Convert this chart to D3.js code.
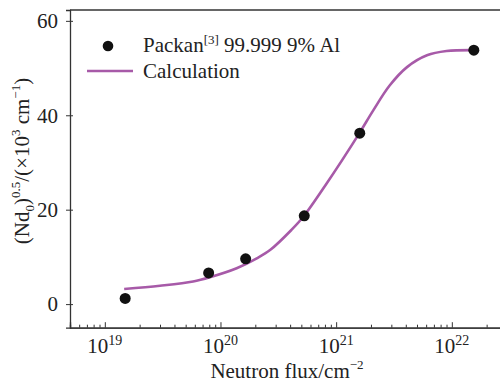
<!DOCTYPE html>
<html>
<head>
<meta charset="utf-8">
<script src="https://cdn.jsdelivr.net/npm/d3@7"></script>
<style>
  body { margin: 0; background: #fff; }
  svg text { font-family: "Liberation Serif", "DejaVu Serif", serif; fill: #222; }
</style>
</head>
<body>
<div id="chart-area"></div>
<script>
// measured points (Packan)
var pointFlux = [1.5e19, 7.9e19, 1.65e20, 5.3e20, 1.6e21, 1.55e22];
var pointVal = [1.2, 6.6, 9.6, 18.7, 36.2, 53.8];

// calculated curve
var calcFlux = [1.47e19, 3.0e19, 5.8e19, 8.1e19, 1.38e20, 2.06e20, 2.7e20, 4.1e20, 5.2e20,
                8.3e20, 1.55e21, 2.1e21, 2.9e21, 4.1e21, 6.1e21, 9.0e21, 1.55e22];
var calcVal = [3.2, 3.9, 4.8, 5.7, 7.6, 9.7, 11.5, 15.7, 18.5,
               25.6, 35.8, 41.1, 46.3, 50.2, 52.7, 53.6, 53.8];

var xMajor = [19, 20, 21, 22];   // exponents
var yTicks = [0, 20, 40, 60];

var width = 500;
var height = 383;
var margin = {top: 10, right: -7, bottom: 55.3, left: 70};
var w = width - margin.left - margin.right;
var h = height - margin.top - margin.bottom;

var svg = d3.select("#chart-area").append("svg")
    .attr("width", width)
    .attr("height", height);

var g = svg.append("g")
    .attr("transform", "translate(" + margin.left + ", " + margin.top + ")");

var x = d3.scaleLog()
    .domain([5e18, 3e22])
    .range([0, w]);

var y = d3.scaleLinear()
    .domain([-5, 62.3])
    .range([h, 0]);

var axisColor = "#333";

// minor ticks
var minors = [];
[18, 19, 20, 21, 22].forEach((e) => {
    for (var k = 2; k <= 9; k++) {
        var v = k * Math.pow(10, e);
        if (v >= 5e18 && v <= 3e22) minors.push(v);
    }
});

var xMinor = g.append("g")
    .attr("transform", "translate(0, " + h + ")")
    .call(d3.axisBottom(x).tickValues(minors).tickSize(-3).tickFormat(""));

var xAxis = g.append("g")
    .attr("transform", "translate(0, " + h + ")")
    .call(d3.axisBottom(x).tickValues(xMajor.map((e) => Math.pow(10, e))).tickSize(-5.5).tickFormat(""));

[xMinor, xAxis].forEach((a) => {
    a.select(".domain").attr("stroke", axisColor).attr("stroke-width", 1.3);
    a.selectAll(".tick line").attr("stroke", axisColor).attr("stroke-width", 1);
});

// x tick labels with superscripts
xMajor.forEach((e) => {
    var t = g.append("text")
        .attr("x", x(Math.pow(10, e)))
        .attr("y", h + 25.5)
        .attr("text-anchor", "middle")
        .attr("font-size", "21px");
    t.append("tspan").text("10");
    t.append("tspan").attr("font-size", "14px").attr("dy", -8).text(e);
});

var yAxis = g.append("g")
    .call(d3.axisLeft(y).tickValues(yTicks).tickSize(4).tickPadding(8));

yAxis.select(".domain").attr("stroke", axisColor).attr("stroke-width", 1.3);
yAxis.selectAll(".tick line").attr("stroke", axisColor).attr("x1", 3);
yAxis.selectAll(".tick text").attr("font-size", "21px").attr("font-family", "Liberation Serif").attr("fill", "#222");

// top border
g.append("line")
    .attr("x1", 0).attr("x2", w + 10)
    .attr("y1", 0).attr("y2", 0)
    .attr("stroke", axisColor)
    .attr("stroke-width", 1.3);

// calculation line
var line = d3.line()
    .x((d) => { return x(d[0]); })
    .y((d) => { return y(d[1]); })
    .curve(d3.curveCatmullRom);

g.append("path")
    .datum(calcFlux.map((f, i) => [f, calcVal[i]]))
    .attr("d", line)
    .attr("fill", "none")
    .attr("stroke", "#a75aa8")
    .attr("stroke-width", 2.6);

// measured points
g.selectAll("circle.pt")
    .data(pointFlux.map((f, i) => [f, pointVal[i]]))
    .enter()
    .append("circle")
        .attr("class", "pt")
        .attr("cx", (d) => { return x(d[0]); })
        .attr("cy", (d) => { return y(d[1]); })
        .attr("r", 5.5)
        .attr("fill", "#111");

// legend
svg.append("circle")
    .attr("cx", 108).attr("cy", 46).attr("r", 5.3).attr("fill", "#111");
var leg1 = svg.append("text")
    .attr("x", 143).attr("y", 52)
    .attr("font-size", "21px");
leg1.append("tspan").text("Packan");
leg1.append("tspan").attr("font-size", "13px").attr("dy", -8).text("[3]");
leg1.append("tspan").attr("dy", 8).text(" 99.999 9% Al");

svg.append("line")
    .attr("x1", 87).attr("x2", 133)
    .attr("y1", 71).attr("y2", 71)
    .attr("stroke", "#a75aa8")
    .attr("stroke-width", 2.6);
svg.append("text")
    .attr("x", 143).attr("y", 78)
    .attr("font-size", "21px")
    .text("Calculation");

// axis labels
var labelX = svg.append("text")
    .attr("x", 287)
    .attr("y", 378)
    .attr("text-anchor", "middle")
    .attr("font-size", "21px");
labelX.append("tspan").text("Neutron flux/cm");
labelX.append("tspan").attr("font-size", "13px").attr("dy", -9).text("\u22122");

var labelY = svg.append("text")
    .attr("transform", "translate(29, 161) rotate(-90)")
    .attr("text-anchor", "middle")
    .attr("font-size", "21px");
labelY.append("tspan").text("(Nd");
labelY.append("tspan").attr("font-size", "13px").attr("dy", 5).text("0");
labelY.append("tspan").attr("dy", -5).text(")");
labelY.append("tspan").attr("font-size", "13px").attr("dy", -9).text("0.5");
labelY.append("tspan").attr("dy", 9).text("/(\u00d710");
labelY.append("tspan").attr("font-size", "13px").attr("dy", -9).text("3");
labelY.append("tspan").attr("dy", 9).text(" cm");
labelY.append("tspan").attr("font-size", "13px").attr("dy", -9).text("\u22121");
labelY.append("tspan").attr("dy", 9).text(")");
</script>
</body>
</html>
